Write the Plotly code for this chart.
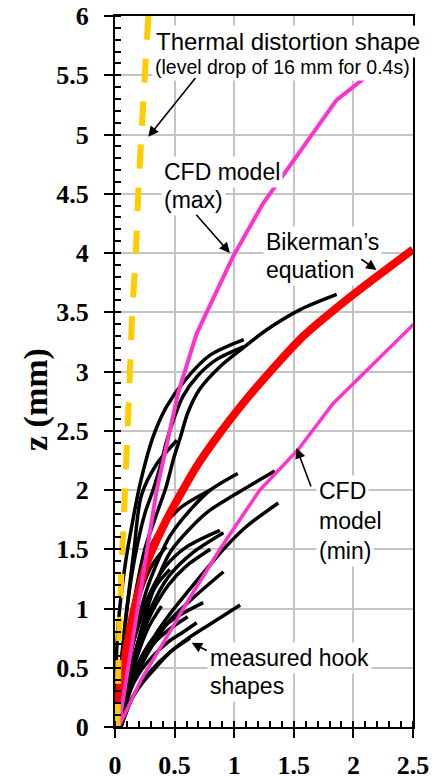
import plotly.graph_objects as go

# ---------------- data ----------------
# Thermal distortion shape (yellow dashed)
thermal_z = [0, 0.5, 1, 1.5, 2, 2.5, 3, 3.5, 4, 4.5, 5, 5.5, 6]
thermal_x = [0.02, 0.028, 0.042, 0.062, 0.084, 0.105, 0.125, 0.145, 0.175, 0.195, 0.222, 0.25, 0.28]

# CFD model (max) (magenta)
cfdmax_x = [0.03, 0.35, 0.53, 0.685, 0.99, 1.243, 1.858, 2.11, 2.35]
cfdmax_z = [0.0, 2.0, 2.82, 3.32, 3.97, 4.42, 5.29, 5.49, 5.68]

# CFD model (min) (magenta)
cfdmin_x = [0.03, 0.22, 0.5, 0.573, 0.88, 1.215, 1.536, 1.83, 2.557]
cfdmin_z = [0.0, 0.4, 0.87, 1.0, 1.5, 2.0, 2.34, 2.73, 3.45]

# Bikerman's equation (red)
biker_x = [0.005, 0.02, 0.04, 0.07, 0.153, 0.266, 0.433, 0.53, 0.685, 0.88, 1.13, 1.55, 2.0, 2.5]
biker_z = [0.0, 0.15, 0.34, 0.51, 0.96, 1.38, 1.75, 1.93, 2.2, 2.48, 2.8, 3.27, 3.65, 4.03]

# Measured hook shapes (black)
hook_x = [
    [0.0, 0.005, 0.03, 0.09, 0.16, 0.21, 0.32, 0.43, 0.59, 0.80, 1.08],
    [0.02, 0.05, 0.10, 0.17, 0.25, 0.32, 0.38, 0.43, 0.49, 0.57, 0.69, 0.85, 1.08],
    [0.03, 0.08, 0.15, 0.25, 0.35, 0.43, 0.49, 0.55, 0.61, 0.71, 0.88, 1.05, 1.27, 1.55, 1.86],
    [0.02, 0.05, 0.10, 0.16, 0.22, 0.35, 0.52],
    [0.04, 0.09, 0.17, 0.28, 0.46, 0.63, 0.80, 1.03],
    [0.05, 0.10, 0.20, 0.32, 0.46, 0.57, 0.77, 1.02, 1.34],
    [0.05, 0.12, 0.22, 0.34, 0.48, 0.60, 0.74, 0.91, 1.10, 1.37],
    [0.05, 0.12, 0.22, 0.34, 0.46, 0.69, 0.91],
    [0.04, 0.10, 0.20, 0.32, 0.45, 0.57, 0.74],
    [0.05, 0.12, 0.22, 0.34, 0.46, 0.63, 0.80, 1.05],
    [0.04, 0.10, 0.20, 0.32, 0.45, 0.57, 0.685],
    [0.05, 0.153, 0.29, 0.46, 0.63],
    [0.04, 0.10, 0.20, 0.32, 0.45, 0.61],
    [0.04, 0.09, 0.17, 0.28, 0.42, 0.60, 0.88],
    [0.05, 0.10, 0.19, 0.30, 0.45, 0.65, 0.91],
    [0.04, 0.10, 0.19, 0.30, 0.45, 0.60, 0.80],
    [0.03, 0.07, 0.13, 0.22, 0.35, 0.55, 0.80],
    [0.03, 0.08, 0.15, 0.25, 0.35, 0.46],
    [0.03, 0.07, 0.13, 0.22, 0.32, 0.43],
    [0.04, 0.10, 0.18, 0.28, 0.39],
]
hook_z = [
    [0, 0.4, 0.9, 1.4, 1.8, 2.05, 2.45, 2.70, 2.93, 3.14, 3.27],
    [0, 0.5, 1.0, 1.45, 1.8, 2.0, 2.2, 2.4, 2.59, 2.79, 2.96, 3.10, 3.21],
    [0, 0.5, 1.0, 1.5, 1.8, 2.03, 2.26, 2.45, 2.65, 2.85, 3.04, 3.18, 3.35, 3.52, 3.65],
    [0, 0.5, 1.0, 1.5, 1.95, 2.22, 2.42],
    [0, 0.4, 0.8, 1.2, 1.61, 1.83, 2.0, 2.14],
    [0, 0.35, 0.75, 1.15, 1.47, 1.61, 1.81, 1.97, 2.16],
    [0, 0.3, 0.55, 0.78, 0.98, 1.13, 1.30, 1.50, 1.69, 1.89],
    [0, 0.28, 0.52, 0.73, 0.90, 1.12, 1.31],
    [0, 0.3, 0.55, 0.75, 0.88, 0.96, 1.05],
    [0, 0.2, 0.36, 0.5, 0.63, 0.76, 0.87, 1.03],
    [0, 0.25, 0.45, 0.6, 0.72, 0.8, 0.88],
    [0, 0.26, 0.46, 0.63, 0.75],
    [0, 0.3, 0.52, 0.7, 0.82, 0.93],
    [0, 0.4, 0.78, 1.1, 1.35, 1.52, 1.66],
    [0, 0.35, 0.7, 1.0, 1.27, 1.47, 1.64],
    [0, 0.35, 0.68, 0.95, 1.2, 1.36, 1.5],
    [0, 0.45, 0.9, 1.3, 1.62, 1.85, 2.0],
    [0, 0.35, 0.7, 1.0, 1.2, 1.33],
    [0, 0.4, 0.8, 1.15, 1.38, 1.52],
    [0, 0.3, 0.58, 0.84, 1.02],
]

x_ticks = [0, 0.5, 1, 1.5, 2, 2.5]
z_ticks = [0, 0.5, 1, 1.5, 2, 2.5, 3, 3.5, 4, 4.5, 5, 5.5, 6]

# ---------------- figure ----------------
fig = go.Figure()

for hx, hz in zip(hook_x, hook_z):
    fig.add_trace(go.Scatter(x=hx, y=hz, mode="lines",
                             line=dict(color="black", width=3.5, shape="spline", smoothing=0.8),
                             hoverinfo="skip"))

fig.add_trace(go.Scatter(x=biker_x, y=biker_z, mode="lines",
                         line=dict(color="#FF0000", width=8, shape="spline", smoothing=0.6)))
fig.add_trace(go.Scatter(x=cfdmin_x, y=cfdmin_z, mode="lines",
                         line=dict(color="#FF33CC", width=3.5)))
fig.add_trace(go.Scatter(x=cfdmax_x, y=cfdmax_z, mode="lines",
                         line=dict(color="#FF33CC", width=4)))
fig.add_trace(go.Scatter(x=thermal_x, y=thermal_z, mode="lines",
                         line=dict(color="#FFCC00", width=6, dash="24px,19px",
                                   shape="spline", smoothing=0.6)))

SANS = "Arial, Liberation Sans, sans-serif"
SERIF = "Times New Roman, Liberation Serif, serif"

texts = [
    ("Thermal distortion shape", 0.3185, 5.783, 24),
    ("(level drop of 16 mm for 0.4s)", 0.307, 5.572, 19.5),
    ("CFD model", 0.386, 4.686, 23),
    ("(max)", 0.386, 4.448, 23),
    ("Bikerman\u2019s", 1.243, 4.096, 23),
    ("equation", 1.243, 3.858, 23),
    ("CFD", 1.685, 1.988, 23),
    ("model", 1.685, 1.735, 23),
    ("(min)", 1.685, 1.482, 23),
    ("measured hook", 0.775, 0.583, 23),
    ("shapes", 0.775, 0.344, 23),
]
for t, x, y, s in texts:
    fig.add_annotation(x=x, y=y, xref="x", yref="y", text=t, showarrow=False,
                       xanchor="left", yanchor="middle", align="left",
                       font=dict(family=SANS, size=s, color="black"),
                       bgcolor="white", borderpad=2)

arrows = [
    (0.685, 5.49, 0.279, 4.98),
    (0.671, 4.336, 0.964, 4.0),
    (2.054, 3.956, 2.194, 3.857),
    (1.649, 2.017, 1.523, 2.354),
    (0.782, 0.639, 0.643, 0.71),
]
for ax, ay, x, y in arrows:
    fig.add_annotation(x=x, y=y, ax=ax, ay=ay, xref="x", yref="y", axref="x", ayref="y",
                       text="", showarrow=True, arrowhead=2, arrowsize=1.3,
                       arrowwidth=1.6, arrowcolor="black")

fig.add_annotation(x=-0.265, y=0.46, xref="paper", yref="paper", text="<b>z (mm)</b>",
                   textangle=-90, showarrow=False, xanchor="center", yanchor="middle",
                   font=dict(family=SERIF, size=34, color="black"))

axis_common = dict(
    showgrid=True, gridcolor="#C4C4C4", gridwidth=1.5,
    showline=True, linecolor="black", linewidth=2, mirror=True,
    zeroline=False, automargin=False,
    ticks="outside", ticklen=9, tickwidth=2, tickcolor="black",
    tickfont=dict(family=SERIF, size=26, color="black", weight="bold"),
    minor=dict(dtick=0.1, ticks="inside", ticklen=6, tickwidth=1.5, tickcolor="black", showgrid=False),
)

fig.update_xaxes(range=[0, 2.5], tickvals=x_ticks, ticktext=[f"{v:g}" for v in x_ticks],
                 ticklabelstandoff=5, **axis_common)
fig.update_yaxes(range=[0, 6], tickvals=z_ticks, ticktext=[f"{v:g}" for v in z_ticks],
                 ticklabelstandoff=10, **axis_common)

fig.update_layout(width=443, height=780, margin=dict(l=115, r=30, t=16, b=53, autoexpand=False),
                  plot_bgcolor="white", paper_bgcolor="white", showlegend=False)

fig.write_html("out.html", config={"displayModeBar": False},
               post_script="document.body.style.margin='0';document.body.style.padding='0';")
